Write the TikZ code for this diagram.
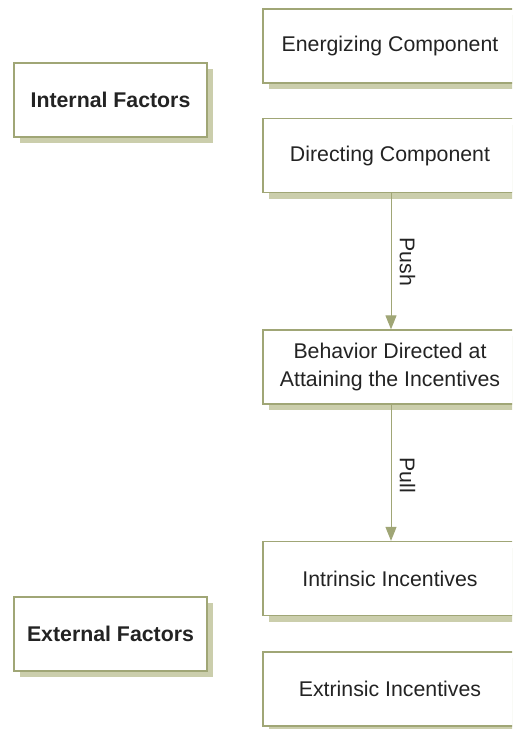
\documentclass[tikz,border=0pt]{standalone}
\usepackage{fontspec}
\setmainfont{Liberation Sans}
\usetikzlibrary{arrows.meta,shadows}
\definecolor{bordercol}{RGB}{160,166,118}
\definecolor{shadowcol}{RGB}{203,206,172}
\definecolor{txtcol}{RGB}{35,35,35}
\begin{document}
\begin{tikzpicture}[x=1pt,y=1pt,
  box/.style={draw=bordercol, line width=1.3pt, fill=white, rectangle,
    minimum width=254pt, minimum height=74pt, inner sep=0pt,
    text=txtcol, font=\fontsize{21.3}{28}\selectfont, align=center,
    drop shadow={shadow xshift=6pt, shadow yshift=-6pt, fill=shadowcol, opacity=1}},
  sidebox/.style={box, minimum width=193pt, font=\fontsize{21.3}{28}\selectfont\bfseries},
  conn/.style={draw=bordercol, line width=1pt, -{Triangle[width=11pt,length=14pt]}},
  lbl/.style={text=txtcol, font=\fontsize{21.3}{28}\selectfont, rotate=-90, inner sep=0pt}
]
\useasboundingbox (0,0) rectangle (512,-729);
\clip (0,0) rectangle (512,-729);
\node[box] (energ) at (390,-46) {Energizing Component};
\node[box] (direct) at (390,-155.5) {Directing Component};
\node[box] (behav) at (390,-367) {Behavior Directed at\\Attaining the Incentives};
\node[box] (intr) at (390,-578.5) {Intrinsic Incentives};
\node[box] (extr) at (390,-689) {Extrinsic Incentives};
\node[sidebox] (internal) at (110.5,-100) {Internal Factors};
\node[sidebox] (external) at (110.5,-634) {External Factors};
\draw[conn] (direct.south -| 391,0) -- (behav.north -| 391,0);
\draw[conn] (behav.south -| 391,0) -- (intr.north -| 391,0);
\node[lbl] (push) at (407.5,-262) {Push};
\node[lbl] (pull) at (407.5,-475) {Pull};
\end{tikzpicture}
\end{document}
